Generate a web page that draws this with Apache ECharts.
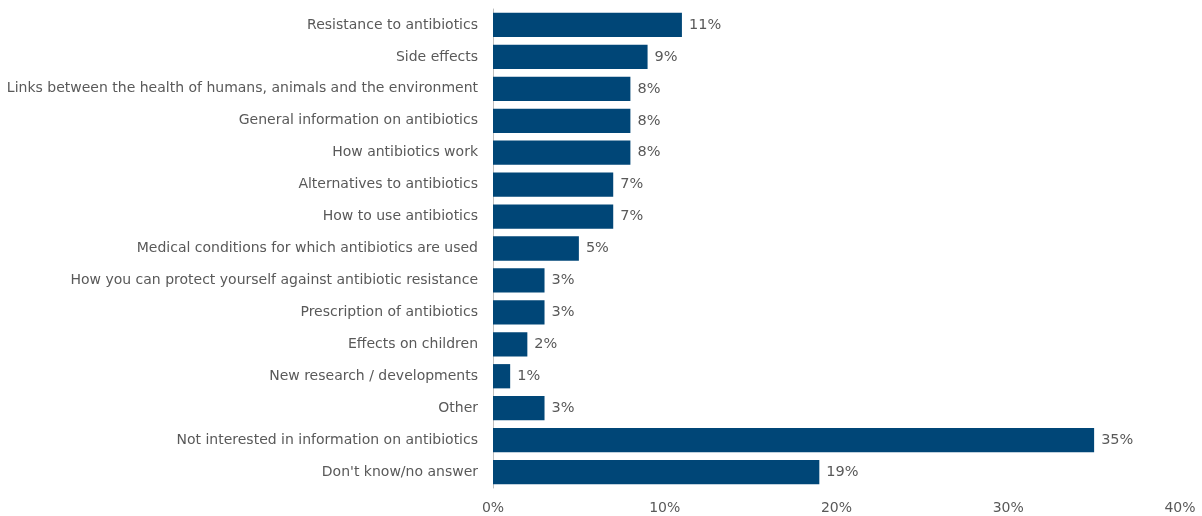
<!DOCTYPE html>
<html><head><meta charset="utf-8">
<script src="https://cdn.jsdelivr.net/npm/echarts@6/dist/echarts.min.js"></script>
<style>html,body{margin:0;padding:0;background:#fff}#c{width:1202px;height:516px}</style>
</head><body><div id="c"></div>
<script>
const categories = [
  "Resistance to antibiotics",
  "Side effects",
  "Links between the health of humans, animals and the environment",
  "General information on antibiotics",
  "How antibiotics work",
  "Alternatives to antibiotics",
  "How to use antibiotics",
  "Medical conditions for which antibiotics are used",
  "How you can protect yourself against antibiotic resistance",
  "Prescription of antibiotics",
  "Effects on children",
  "New research / developments",
  "Other",
  "Not interested in information on antibiotics",
  "Don't know/no answer"
];
const values = [11, 9, 8, 8, 8, 7, 7, 5, 3, 3, 2, 1, 3, 35, 19];
const xTicks = [0, 10, 20, 30, 40];

const font = "DejaVu Sans";
const chart = echarts.init(document.getElementById('c'));
chart.setOption({
  animation: false,
  grid: { left: 493, right: 22, top: 9, bottom: 28, containLabel: false },
  xAxis: {
    type: 'value', min: xTicks[0], max: xTicks[xTicks.length - 1], interval: 10,
    axisLine: { show: false }, axisTick: { show: false }, splitLine: { show: false },
    axisLabel: { formatter: v => v + '%', color: '#595959', fontFamily: font, fontSize: 14, margin: 13 }
  },
  yAxis: {
    type: 'category', data: categories, inverse: true,
    axisLine: { show: true, lineStyle: { color: '#BFBFBF', width: 1 } },
    axisTick: { show: false },
    axisLabel: { color: '#595959', fontFamily: font, fontSize: 14, margin: 15 }
  },
  series: [{
    type: 'bar', data: values, barCategoryGap: '24%',
    itemStyle: { color: '#004677' },
    label: { show: true, position: 'right', distance: 7, formatter: p => p.value + '%',
      color: '#595959', fontFamily: font, fontSize: 14.5 }
  }]
});
</script></body></html>
